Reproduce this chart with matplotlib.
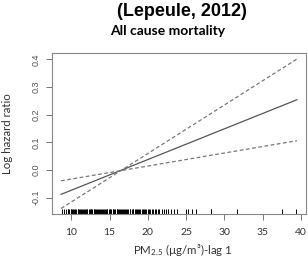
import matplotlib
matplotlib.use("Agg")
import matplotlib.pyplot as plt

plt.rcParams["mathtext.fontset"] = "custom"
plt.rcParams["mathtext.rm"] = "Lato"

# estimated lag-1 PM2.5 effect (linear)
pm = [8.65, 39.5]
fit = [-0.088, 0.254]
ci_a = [-0.039, 0.106]
ci_b = [-0.139, 0.401]

# rug of observed PM2.5 values
rug = [8.8, 9.0, 9.3, 9.5, 9.6, 9.7, 9.9, 10.0, 10.1, 10.2, 10.4, 10.5, 10.6,
       10.8, 10.9, 11.0, 11.1, 11.3, 11.4, 11.5, 11.6, 11.8, 11.9, 12.0, 12.1,
       12.3, 12.4, 12.5, 12.6, 12.7, 12.9, 13.0, 13.1, 13.2, 13.4, 13.5, 13.6,
       13.7, 13.9, 14.0, 14.1, 14.2, 14.4, 14.5, 14.6, 14.7, 14.9, 15.0, 15.1,
       15.2, 15.4, 15.5, 15.6, 15.7, 15.9, 16.0, 16.1, 16.2, 16.4, 16.5, 16.6,
       16.8, 16.9, 17.0, 17.2, 17.3, 17.4, 17.6, 17.7, 17.9, 18.0, 18.1, 18.3,
       18.4, 18.6, 18.7, 18.9, 19.0, 19.2, 19.3, 19.5, 19.6, 19.8, 20.0, 20.1,
       20.3, 20.5, 20.7, 20.9, 21.1, 21.3, 21.5, 21.8, 22.1, 22.4, 22.7, 23.0,
       23.4, 23.8, 25.0, 25.3, 25.8, 26.3, 28.2, 28.3, 31.6, 37.5, 39.4]

xticks = [10, 15, 20, 25, 30, 35, 40]
yticks = [-0.1, 0.0, 0.1, 0.2, 0.3, 0.4]

fig = plt.figure(figsize=(3.08, 2.58), dpi=100)
ax = fig.add_axes([52 / 308, 1 - 214 / 258, 254 / 308, 161.3 / 258])

ax.plot(pm, fit, color="#555555", lw=0.9)
ax.plot(pm, ci_a, color="#777777", lw=0.9, ls=(0, (3, 2)))
ax.plot(pm, ci_b, color="#777777", lw=0.9, ls=(0, (3, 2)))

ax.set_xlim(7.46, 40.69)
ax.set_ylim(-0.159, 0.424)
ylo = -0.159
for r in rug:
    ax.plot([r, r], [ylo, ylo + 0.019], color="black", lw=0.7, solid_capstyle="butt")

for s in ax.spines.values():
    s.set_color("#888888")
    s.set_linewidth(0.8)

ax.set_xticks(xticks)
ax.set_xticklabels([str(t) for t in xticks], family="Lato", fontsize=7.5, color="#333333")
ax.set_yticks(yticks)
ax.set_yticklabels(["%.1f" % t for t in yticks], family="Liberation Sans", fontsize=6.5,
                   color="#555555", rotation=90, va="center")
ax.tick_params(axis="x", length=4, width=0.7, color="#777777", pad=6)
ax.tick_params(axis="y", length=4, width=0.7, color="#777777", pad=4)

ax.set_ylabel("Log hazard ratio", family="Lato", fontsize=8.3, color="#333333")
ax.yaxis.set_label_coords(-0.152, 0.5)
fig.text(183 / 308, 1 - 250 / 258, r"PM$\mathregular{_{2.5}}$ (µg/m³)-lag 1", family="Lato",
         fontsize=8.3, color="#333333", ha="center", va="center")

fig.text(182 / 308, 1 - 12 / 258, "(Lepeule, 2012)", family="Liberation Sans",
         fontweight="bold", fontsize=13, ha="center", va="center")
fig.text(168 / 308, 1 - 31 / 258, "All cause mortality", family="Lato",
         fontweight="bold", fontsize=10, ha="center", va="center")

fig.savefig("out.png", dpi=100)
